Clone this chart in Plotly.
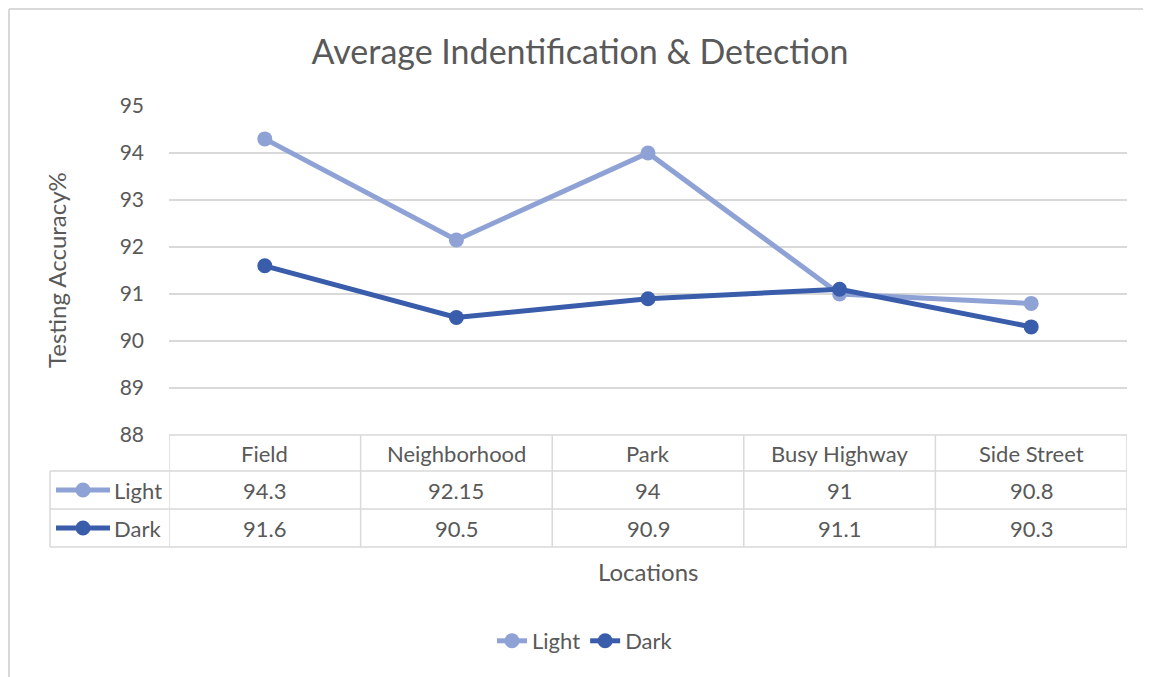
import plotly.graph_objects as go

# DATA
locations = ["Field", "Neighborhood", "Park", "Busy Highway", "Side Street"]
light = [94.3, 92.15, 94, 91, 90.8]
dark = [91.6, 90.5, 90.9, 91.1, 90.3]
y_ticks = [88, 89, 90, 91, 92, 93, 94, 95]

LIGHT_COL = "#8FA2D5"
DARK_COL = "#3A5DAB"
TEXT_COL = "#595959"
GRID_COL = "#D9D9D9"
FONT = "Lato"

OFF = 8                      # page body margin
W, H = 1151 - OFF, 677 - OFF
L, R, T, B = 169, 1127, 106, 435   # plot area in page pixels


def px(x):
    return (x - L) / (R - L)


def py(y):
    return (B - y) / (B - T)


fig = go.Figure()

for name, vals, col in [("Light", light, LIGHT_COL), ("Dark", dark, DARK_COL)]:
    fig.add_trace(go.Scatter(
        x=locations, y=vals, name=name, mode="lines+markers",
        line=dict(color=col, width=5),
        marker=dict(color=col, size=15),
        cliponaxis=False,
    ))

shapes = []
annotations = []
line_style = dict(color=GRID_COL, width=1.5)

# outer chart border (left and top edges visible)
shapes.append(dict(type="line", xref="paper", yref="paper",
                   x0=px(9), x1=px(9), y0=py(720), y1=py(9),
                   line=dict(color=GRID_COL, width=2), layer="below"))
shapes.append(dict(type="line", xref="paper", yref="paper",
                   x0=px(9), x1=px(1200), y0=py(9), y1=py(9),
                   line=dict(color=GRID_COL, width=2), layer="below"))

# data table grid
row_top, row1, row2, row3 = 435, 471, 509, 547
shapes.append(dict(type="line", xref="paper", yref="paper", x0=0, x1=1,
                   y0=py(row_top), y1=py(row_top), line=line_style))
for yy in [row1, row2, row3]:
    shapes.append(dict(type="line", xref="paper", yref="paper", x0=px(50), x1=1,
                       y0=py(yy), y1=py(yy), line=line_style))
shapes.append(dict(type="line", xref="paper", yref="paper", x0=px(50), x1=px(50),
                   y0=py(row1), y1=py(row3), line=line_style))
for i in range(len(locations) + 1):
    shapes.append(dict(type="line", xref="x", yref="paper", x0=i - 0.5, x1=i - 0.5,
                       y0=py(row_top), y1=py(row3), line=line_style))

# table text
tfont = dict(family=FONT, size=22, color=TEXT_COL)
for i, loc in enumerate(locations):
    annotations.append(dict(x=loc, y=py(453), xref="x", yref="paper", text=loc,
                            showarrow=False, font=tfont, yanchor="middle"))
    annotations.append(dict(x=loc, y=py(490), xref="x", yref="paper", text=f"{light[i]:g}",
                            showarrow=False, font=tfont, yanchor="middle"))
    annotations.append(dict(x=loc, y=py(528), xref="x", yref="paper", text=f"{dark[i]:g}",
                            showarrow=False, font=tfont, yanchor="middle"))

# table legend keys
for name, col, yy in [("Light", LIGHT_COL, 490), ("Dark", DARK_COL, 528)]:
    shapes.append(dict(type="line", xref="paper", yref="paper", x0=px(56), x1=px(110),
                       y0=py(yy), y1=py(yy), line=dict(color=col, width=5)))
    shapes.append(dict(type="circle", xref="paper", yref="paper",
                       xsizemode="pixel", ysizemode="pixel",
                       xanchor=px(83), yanchor=py(yy),
                       x0=-7.5, x1=7.5, y0=-7.5, y1=7.5,
                       fillcolor=col, line=dict(color=col, width=0)))
    annotations.append(dict(x=px(112), y=py(yy), xref="paper", yref="paper", text=name,
                            showarrow=False, font=tfont, xanchor="left", yanchor="middle"))

# axis titles
annotations.append(dict(x=0.5, y=py(571), xref="paper", yref="paper", text="Locations",
                        showarrow=False, font=dict(family=FONT, size=24, color=TEXT_COL),
                        yanchor="middle"))
annotations.append(dict(x=px(56), y=py(270), xref="paper", yref="paper",
                        text="Testing Accuracy%", textangle=-90,
                        showarrow=False, font=dict(family=FONT, size=24, color=TEXT_COL),
                        xanchor="center", yanchor="middle"))

fig.update_layout(
    width=W, height=H,
    margin=dict(l=L - OFF, r=1151 - R, t=T - OFF, b=677 - B),
    paper_bgcolor="white", plot_bgcolor="white",
    font=dict(family=FONT, color=TEXT_COL),
    title=dict(text="Average Indentification & Detection", x=(580 - OFF) / W,
               y=1 - (52 - OFF) / H,
               xanchor="center", yanchor="middle", xref="container", yref="container",
               font=dict(family=FONT, size=34, color=TEXT_COL)),
    xaxis=dict(showticklabels=False, showgrid=False, zeroline=False, showline=False,
               range=[-0.5, len(locations) - 0.5]),
    yaxis=dict(range=[88, 95], tickvals=y_ticks, showgrid=True, gridcolor=GRID_COL,
               gridwidth=1.5, zeroline=False, showline=False,
               tickfont=dict(family=FONT, size=21, color=TEXT_COL),
               ticklabelstandoff=24),
    showlegend=True,
    legend=dict(orientation="h", x=(585 - OFF) / W, y=1 - (641 - OFF) / H,
                xref="container", yref="container",
                xanchor="center", yanchor="middle",
                font=dict(family=FONT, size=22, color=TEXT_COL)),
    shapes=shapes,
    annotations=annotations,
)

fig.write_html("out.html")
